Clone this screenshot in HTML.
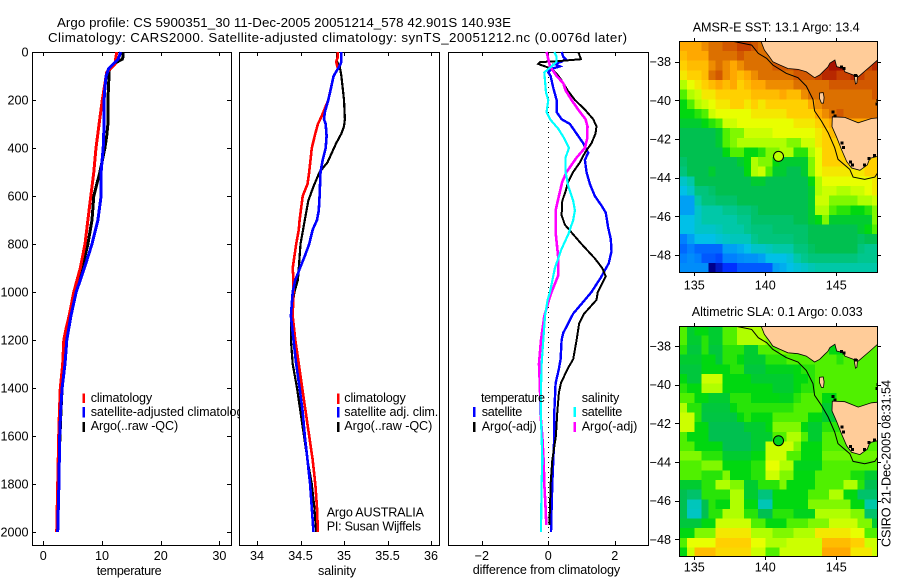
<!DOCTYPE html>
<html>
<head>
<meta charset="utf-8">
<title>Argo profile 5900351_30</title>
<style>
html,body{margin:0;padding:0;background:#fff;}
svg{display:block;}
text{font-family:"Liberation Sans",sans-serif;font-size:12.6px;fill:#000;}
text.title{font-size:13.3px;}
</style>
</head>
<body>
<svg id="chart" xmlns="http://www.w3.org/2000/svg" width="900" height="580" viewBox="0 0 900 580">
  <defs>
    <clipPath id="clip-sst"><rect x="679" y="41" width="199" height="232"/></clipPath>
    <clipPath id="clip-sla"><rect x="679" y="326" width="199" height="230"/></clipPath>
  </defs>
  <rect x="0" y="0" width="900" height="580" fill="#fff"/>
  <text class="title" x="57" y="27" textLength="454" lengthAdjust="spacing">Argo profile: CS 5900351_30 11-Dec-2005 20051214_578 42.901S 140.93E</text>
  <text class="title" x="48" y="42" textLength="579" lengthAdjust="spacing">Climatology: CARS2000. Satellite-adjusted climatology: synTS_20051212.nc (0.0076d later)</text>

  <g id="panel-temp"></g>
  <g id="panel-sal"></g>
  <g id="panel-diff"></g>
  <g id="map-sst"></g>
  <g id="map-sla"></g>

  <text x="692.7" y="31.5" textLength="167" lengthAdjust="spacing">AMSR-E SST: 13.1  Argo: 13.4</text>
  <text x="691.7" y="316" textLength="171" lengthAdjust="spacing">Altimetric SLA: 0.1  Argo: 0.033</text>
  <text transform="translate(890.5,547) rotate(-90)" textLength="167" lengthAdjust="spacing">CSIRO 21-Dec-2005 08:31:54</text>
</svg>
<script>
/* ---------- profile data ---------- */
const depthTicks = [0,200,400,600,800,1000,1200,1400,1600,1800,2000];
const tempTicks = [0,10,20,30];
const salTicks = [34,34.5,35,35.5,36];
const diffTicks = [-2,0,2];

const tempClimDepth = [0,50,85,200,300,400,500,600,800,900,1000,1100,1150,1200,1300,1400,1500,1600,1800,2000];
const tempClim = [12.5,12.2,10.8,10.05,9.5,8.98,8.6,8.1,7.1,6.3,5.2,4.4,3.9,3.5,3.3,2.9,2.75,2.62,2.45,2.28];
const tempArgoDepth = [0,20,30,50,75,100,200,300,350,400,500,600,700,800,900,1000,1100,1200,1300,1400,1500,1600,1800,2000];
const tempArgo = [13.6,13.6,13.45,11.9,11.25,11.2,11.0,11.0,10.8,10.5,9.65,8.6,8.3,7.6,6.6,5.4,4.5,3.9,3.5,3.2,3.0,2.85,2.5,2.35];
const tempSatDepth = [0,30,50,70,100,150,200,300,400,500,600,700,800,900,1000,1100,1200,1300,1400,1500,1600,1800,2000];
const tempSat = [13.2,12.75,11.9,11.1,10.7,10.5,10.35,10.35,10.2,9.85,9.85,9.3,8.3,7,5.6,4.7,4.0,3.7,3.2,2.95,2.8,2.65,2.45];

const salClimDepth = [0,20,40,70,100,200,270,300,340,400,500,550,600,700,740,800,900,950,1000,1100,1200,1300,1400,1500,1600,1700,1800,1900,2000];
const salClim = [34.93,34.93,34.91,34.93,34.88,34.82,34.74,34.70,34.67,34.63,34.6,34.58,34.525,34.49,34.48,34.45,34.41,34.42,34.42,34.41,34.44,34.48,34.52,34.56,34.6,34.64,34.67,34.69,34.7];
const salArgoDepth = [0,40,60,100,200,280,310,340,380,420,460,500,560,620,700,740,800,900,950,1000,1050,1100,1200,1300,1400,1500,1600,1700,1800,1900,2000];
const salArgo = [34.92,34.92,34.95,34.97,35.0,35.01,35.0,34.97,34.91,34.86,34.81,34.72,34.65,34.59,34.55,34.53,34.5,34.48,34.47,34.43,34.41,34.39,34.39,34.41,34.46,34.5,34.54,34.58,34.63,34.66,34.68];
const salSatDepth = [0,40,50,70,100,150,200,250,280,300,350,400,450,500,600,660,700,740,800,850,950,1000,1100,1200,1300,1400,1500,1600,1700,1800,1900,2000];
const salSat = [34.97,34.97,34.96,34.93,34.88,34.85,34.82,34.78,34.77,34.79,34.8,34.79,34.755,34.73,34.72,34.71,34.69,34.64,34.6,34.55,34.44,34.41,34.39,34.42,34.45,34.49,34.525,34.55,34.58,34.61,34.63,34.65];

const diffTempArgoDepth = [0,10,30,38,42,50,60,70,90,120,160,200,240,280,310,340,380,420,460,500,540,580,620,680,720,760,800,860,900,935,970,1000,1033,1090,1130,1200,1280,1320,1380,1420,1500,1600,1700,1800,1900,1970];
const diffTempArgo = [0.9,0.93,0.98,0.3,-0.25,-0.3,-0.1,0.1,0.25,0.41,0.58,0.8,1.1,1.35,1.45,1.42,1.3,1.1,0.95,0.75,0.6,0.52,0.42,0.4,0.5,0.75,1.0,1.4,1.62,1.73,1.6,1.49,1.45,1.08,0.93,0.85,0.75,0.58,0.38,0.32,0.27,0.23,0.12,0.07,0.05,0.03];
const diffTempSatDepth = [0,20,30,40,50,60,70,85,100,150,200,250,280,300,330,380,420,450,500,550,600,640,670,730,780,830,880,940,1000,1033,1090,1130,1170,1200,1280,1320,1380,1500,1600,1700,1800,1900,2000];
const diffTempSat = [0.4,0.45,0.52,0.4,0.2,0.35,0.1,0,0.07,0.15,0.25,0.25,0.4,0.65,0.8,1.05,1.2,1.1,1.15,1.25,1.4,1.6,1.73,1.8,1.88,1.9,1.82,1.58,1.3,1.1,0.75,0.6,0.45,0.4,0.37,0.32,0.22,0.18,0.18,0.15,0.12,0.1,0.08];
const diffSalSatDepth = [0,20,40,60,85,120,170,200,250,280,320,360,400,440,500,560,620,660,700,760,820,900,1000,1033,1100,1200,1300,1400,1500,1600,1700,1800,2000];
const diffSalSat = [0.18,0.25,0.25,0.1,-0.12,-0.1,-0.07,0,-0.05,0.05,0.3,0.48,0.62,0.52,0.52,0.6,0.75,0.8,0.75,0.6,0.4,0.2,0.05,-0.02,-0.1,-0.15,-0.2,-0.22,-0.23,-0.2,-0.18,-0.2,-0.22];
const diffSalArgoDepth = [0,30,60,100,130,160,200,240,280,310,360,400,440,500,540,600,660,750,860,930,1000,1033,1100,1200,1300,1400,1500,1600,1700,1800,1900,1970];
const diffSalArgo = [-0.05,0,0.05,0.25,0.45,0.52,0.7,0.9,1.12,1.18,1.17,1.1,0.85,0.55,0.42,0.32,0.22,0.22,0.3,0.3,0.1,0.02,-0.12,-0.22,-0.28,-0.25,-0.24,-0.18,-0.14,-0.12,-0.08,-0.06];

/* ---------- map data ---------- */
const lonTicks = [135,140,145];
const latTicks = [-38,-40,-42,-44,-46,-48];
const floatLon = 140.93;
const floatLat = -42.9;
const floatSstLevel = 8.2;
const floatSlaLevel = 5.8;

const sstLevels = [
[11,11,11,11.5,12,12,12.5,12.5,13,13,12.5,12,12,12,12,12,12,12,12,12,12,12,12,12,12,12,12,12],
[10.5,11,11,11,12,12,12,12,12.5,12,12,12,12,12,12,12,12,12,12,12,12,12,12,12,12,12,12,12],
[10,10.5,10.5,10.5,11.5,12,11.5,11,11.5,12,12,12,12,12.5,12.5,12.5,13,13,13,13,13.5,14,14,13,13,13,13,13.5],
[9.5,10,10,10.5,12,12.5,11.5,11,10.5,11,11.5,12,12,12,12,12,12.5,12.5,12.5,13,13.5,13.5,13,13,13.5,13,12.5,12.5],
[8,9,9.5,10,10.5,11,10.5,11,10,10.5,11,11,11.5,11.5,11.5,11.5,12,12,12,12,12,12.5,12.5,12.5,12.5,12.5,12.5,12.5],
[7,8,8.5,9.5,9.5,10,10,10,10,10,10.5,10.5,10.5,10.5,11,10.5,10.5,11.5,12,12,12,12,12,12,12,12,12,12.5],
[6,7,8,8.5,9,9.5,9.5,10,10,9.5,10,9.5,10,10,10,10,10,10,11,11.5,12,12,12,12,12,12,12,12],
[6,6,6.5,7,8.5,9,9,9,9,9,9.5,9.5,9.5,9.5,9.5,10,10,10,10,11,11.5,12,12.5,12,12,12,12,12],
[5.5,5.5,5.5,6,6.5,7,8.5,8.5,9,9,9,9,9,9,9,9,9.5,9.5,9.5,10,10.5,11,11,11,11,11,11,11],
[5,5,5,5,5,5.5,7,7.5,7.5,8.5,8.5,8.5,8.5,9,9,9,9,9,9,9.5,10,10.5,10.5,10.5,10.5,10.5,10.5,10.5],
[5,5,5,5,5,5.5,7,7.5,8,8,8,8,8,8,8,7.5,7.5,8.5,8.5,9.5,10,10,10,10,10,10,10,10],
[5,5,5,5,5,5,6,7,7,6,6,6.5,7.5,7.5,8,8,6.5,6.5,8,9,10,10,10,10.5,10.5,10.5,10.5,10.5],
[4.7,5,5,5,5,5,5,5,5.5,6,8,7.5,7.5,6,5.5,5.5,5.5,5.5,7.5,9,10,10,10,10,10,10,10,10],
[4.5,5,5,5,5.5,5,5,5,5,6,8,8.5,7,5.5,5.5,5,5,5.5,7.5,9,9.5,9.5,9.5,9.5,9.5,9.5,10,10],
[3.5,4,5,5,5,5,5,5,5,5,5.5,5.5,5,5,5,5,5,5,6,8,9,9,9,9,9,9,9,9.5],
[3,3.5,4.5,4.5,4.7,5,5,5,5,5,5,5,5,5,5,5,5,5,5.5,8,8.5,8.5,8,8,8.5,8.5,9,9.5],
[2.5,2.5,4,4.5,4.5,4.7,4.7,4.7,5,5,5,5,5,5,5,5,5,5,5.5,8.5,8.5,7.5,7.5,7.5,7.5,8,8,8.5],
[2.5,2.5,3.5,4,4,4,4.3,4.3,4.5,4.5,4.7,5,5,5,5,5,5,5,5.5,8,8,7,6.5,6.5,6,6,6.5,7.5],
[3,3,3.5,4,4,4,4,4,4.3,4.3,4.7,4.7,4.7,4.7,4.7,4.7,5,5,5.5,6,7.5,5.5,5.5,5.5,5.5,5.5,5.5,7.5],
[3,3,3.5,3.5,3.5,3.7,4,4,4,4.3,4.5,4.5,4.5,4.7,4.7,4.7,4.7,4.7,5,5,5,5,5,5,5,5.5,6,7],
[2,2.5,3,3,3,3.3,3.5,3.7,3.7,3.7,4.3,4.5,4.5,4.5,4.5,4.5,4.7,4.7,5,5,5,5,5,5,5,4.8,5,5],
[1.7,2,1.7,1.7,1.7,1.7,2.5,2.5,2.7,3,3.5,3.5,3.7,4,4,4,4.5,4.5,4.8,5,5,5,5,5,5,4.5,4.3,4.3],
[2,2.2,2,1.5,1.5,1.3,2,2,2.2,2.3,2.3,2.5,3,3,3,3.3,4,4.3,4.5,4.5,4.5,4.5,4.5,4.5,4.5,4.3,4.3,4.3],
[2.2,2.2,2.2,2.2,0,0.5,1,1,1.5,1.5,1.5,1.5,1.5,2.5,2.7,3,3.3,3.5,3.8,4,4,4,4,4,4,4,4,4]
];

const slaLevels = [
[7,5.5,6,6,5.5,5.5,7,7,8,8,8,8,8,8,8,8,8,8,8,8,8,8,8,8,8,8,8,8],
[7,5.5,5.5,6.5,5.5,5.5,7,7,8,8,8,8,7.5,7.5,7.5,7,7,7,7,7,7,7,7,7,7,7,7,7],
[6.5,5.3,5.3,6.5,5.3,5.3,6.5,6.5,6.5,5.5,5.5,7,7,7,7.5,7.5,7,7,7,7,7,6,6,7,7,7,7,7],
[5.5,5.5,5.5,6,6,5.3,6.5,6.5,6,5.5,5.5,5.5,6.5,6.5,6.5,7,7,7,7,7,7,7,6.5,7,7,7,7,7],
[5.3,5.3,5.3,6,6,6,6,6.5,6.5,5.3,5.3,5.3,5.8,5.8,5.8,5.8,6,6.5,6.5,7,7,7,7,7,7,7,7,7],
[6,5.3,5.3,8.5,8.5,8.5,6,6,6,6,5.5,5.5,5.5,5.5,5.5,5.5,6,6,6.5,7,7,7,7,7,7,7,7,7],
[6.5,6,6,8,8,8,6,6,6,6,6,6,6,5.5,5.5,5.5,6,6.5,6.5,7,7,7,7,7,7,7,7,7],
[7,7,6,6,5.5,5.5,5.5,6.5,6.5,6.5,6,6,6,6,5.8,5.8,6.5,7,7,7,6,6,7,7,7,7,7,7],
[8,6.5,6.5,5.3,5.3,5.3,5.3,6,6.5,6.5,6.5,6.5,6.5,6.5,6.5,6.5,7,7,7,7,5.5,5.5,7,7,7,7,7,7],
[8.5,8.5,6.5,5.2,5.2,5.2,5.2,5.2,6,6.5,6,6,6,7,7,7,7,7,6,6,5.5,5.5,5.5,7,7,7,7,7],
[8.5,8.5,6,6,5,5,5,5,5,5.5,5.5,5.5,6,7.5,7.5,7.5,7.5,6,5.5,5.5,6.5,6.5,6.5,7,7,7,7,7],
[7,6,6,6,5,5,5,5,5,5,5.5,5.5,5.5,7,7,8,8,7,5.5,5.5,7,7,7,7,7,7,7,7],
[7,7,6,6,6,6,5,5,5,5,5.5,5.5,8.5,8.5,8.5,8.5,7.5,6,6,6,7,7,7,7,7,7,7,7],
[7.5,7.5,7.5,6.5,6.5,6.5,5.5,5.5,5.5,5.5,6,6,8.5,8.5,8.5,7,7,6,6,6,7.3,7.3,7.3,7.3,7.3,7.3,7.3,7.3],
[7,7,7,7.5,7.5,7.5,6,6,6,6,6.5,6.5,9,9,8,8,5.8,5.8,5.8,5.8,7,7,7,7,7,7,7,7],
[7,7,7,6.5,6.5,6.5,7.5,6,6,6,6.5,6.5,8.5,8.5,7.5,7.5,6,6,6,7,7,7,7,7,6.3,6.3,5.5,5.5],
[5.5,5.5,5.5,6.5,6.5,8,8,7.5,7.5,5.5,5.5,6.5,6.5,6.5,7.5,6,6,6,6,7,7,7,7,8,8,6.5,5,5],
[5,4.7,4.7,6.5,6.5,6.5,6.5,8,8,5.5,5.5,4.5,4.5,6,6,6,6,6,7,7,7,8,8,6,6,4.7,4.7,4.7],
[5,3.7,3.7,5,6.5,6,6,8,8,6,6,3.8,3.8,6,6,6,6,6,7.5,7.5,7.5,7.5,7.5,7.5,6,6,4,4],
[5,3.6,3.6,5,6.5,6.5,8,8,8,6.5,6.5,5,5,6.5,6.5,6.5,5.8,5.8,5.8,8,8,8,8,8,7.5,7.5,4.7,4.7],
[5.3,5.3,5.3,6,6,8.5,8.5,8.5,8.5,8.5,7,7,6,6,6,7,7,7,7.5,7.5,7.5,8.5,8.5,8.5,8.5,7.5,7.5,5.5],
[6,6,7.5,7.5,7.5,9.5,9.5,9.5,9.5,9.5,8,8,8,7.5,7.5,7.5,8,8,8,9.5,9.5,9.5,9.5,9.5,9,9,7,7],
[7,9,9,9,9,10,10,10,10,10,9,9,8,8,8,8.5,8.5,8.5,8.5,8.5,10.5,10.5,10.5,10.5,10,10,8.5,8.5],
[6,8.5,10.5,10.5,10.5,9.8,9.8,9.8,9.8,9.8,8.5,8.5,7,7,8.5,8.5,8.5,8.5,8.5,8.5,11,11,11,11,9.5,9.5,9.5,8.5]
];

/* coastline geography, lon / lat */
const mainlandLon = [139.70,139.94,140.29,140.53,141.03,141.59,142.30,142.89,143.47,143.83,144.18,144.40,144.55,144.90,145.03,145.50,145.60,146.20,146.55,147.37,148,148,139.70];
const mainlandLat = [-36.95,-37.40,-37.74,-38.00,-38.17,-38.35,-38.40,-38.52,-38.83,-38.69,-38.43,-38.28,-38.08,-37.91,-38.26,-38.34,-38.52,-38.69,-38.78,-38.26,-37.85,-36.95,-36.95];
const tasmaniaLon = [144.72,145.6,146.54,147.48,148,148,147.36,147.18,146.66,146.08,145.73,145.38,145.03,144.70,144.72];
const tasmaniaLat = [-40.85,-40.88,-41.16,-40.94,-40.90,-42.88,-43.0,-43.34,-43.62,-43.5,-43.17,-42.57,-41.91,-41.36,-40.85];
const kingIslandLon = [143.82,144.08,144.14,144.1,143.95,143.82,143.82];
const kingIslandLat = [-39.62,-39.6,-39.85,-40.14,-40.14,-39.9,-39.62];
const promontoryLon = [146.25,146.5,146.45,146.35,146.25];
const promontoryLat = [-38.7,-38.7,-39.1,-39.15,-38.7];
const shelfLon = [137.75,139.04,139.51,140.1,140.53,141.47,142.3,142.89,143.36,143.47,143.95,144.42,144.89,145.12,145.95,146.18,147.0,147.71,148];
const shelfLat = [-36.95,-37.14,-37.57,-37.83,-38.17,-38.6,-38.83,-39.26,-39.95,-40.55,-41.07,-41.67,-42.45,-43.05,-43.57,-43.97,-44.09,-43.97,-43.66];
const coastSpeckLon = [145.35,145.55,146.35,144.75,144.9,145.4,145.5,146.0,146.15,147.0,147.3,147.7,147.85,147.95];
const coastSpeckLat = [-38.28,-38.35,-38.72,-40.6,-40.8,-42.2,-42.45,-43.2,-43.35,-43.35,-43.0,-42.85,-40.2,-40.0];

/* ---------- axis functions ---------- */
const depthY = d => 52 + 0.24 * d;
const tempX = v => 43.3 + 5.87 * v;
const salX = v => 257 + 87 * (v - 34);
const diffX = v => 548.3 + 33.25 * v;
const lonX = v => 694.3 + 14.2 * (v - 135);
const sstLatY = v => 61.7 + 19.33 * (-38 - v);
const slaLatY = v => 346 + 19.33 * (-38 - v);

const colorStops = ["#00008c","#0030ff","#0080ff","#00c0e8","#00c8a8","#00c050","#00d810","#50f000","#b0ff00","#e8ff00","#ffd000","#ffa800","#dc7000","#c84000","#a81000"];
function hexRgb(h){return [parseInt(h.slice(1,3),16),parseInt(h.slice(3,5),16),parseInt(h.slice(5,7),16)];}
function levelColor(v){
  const i = Math.max(0,Math.min(colorStops.length-2,Math.floor(v)));
  const f = Math.max(0,Math.min(1,v-i));
  const a = hexRgb(colorStops[i]), b = hexRgb(colorStops[i+1]);
  return "rgb("+a.map((c,k)=>Math.round(c+(b[k]-c)*f)).join(",")+")";
}
const minusLabel = t => String(t).replace("-","\u2212");

const NS = "http://www.w3.org/2000/svg";
function mk(parent,tag,attrs,txt){
  const e = document.createElementNS(NS,tag);
  for(const k in attrs) e.setAttribute(k,attrs[k]);
  if(txt!==undefined) e.textContent = txt;
  parent.appendChild(e);
  return e;
}
function linePath(xs,ys,xf,yf){
  return xs.map((v,i)=>xf(v).toFixed(1)+","+yf(ys[i]).toFixed(1)).join(" ");
}

/* ---------- profile panels ---------- */
function frame(g,x,y,w,h,name){
  const el = mk(g,"rect",{x:x+0.5,y:y+0.5,width:w,height:h,fill:"none",stroke:"#000","stroke-width":1,"shape-rendering":"crispEdges"});
  
  
}
function xAxis(g,ticks,xf,top,bottom){
  ticks.forEach(t=>{
    const x = Math.round(xf(t))+0.5;
    const t1 = mk(g,"line",{x1:x,x2:x,y1:bottom,y2:bottom-4,stroke:"#000","shape-rendering":"crispEdges"});
    
    
    const t2 = mk(g,"line",{x1:x,x2:x,y1:top,y2:top+4,stroke:"#000","shape-rendering":"crispEdges"});
    
    
    const lb = mk(g,"text",{x:xf(t),y:560,"text-anchor":"middle"},minusLabel(t));
    
    
  });
}
function profile(g,vals,depths,xf,color,width,name){
  const el = mk(g,"polyline",{points:linePath(vals,depths,xf,depthY),fill:"none",stroke:color,"stroke-width":width,"shape-rendering":"crispEdges"});
  
  
}
function legend(g,swX,txX,y0,y1,base,color,label,len,name){
  const sw = mk(g,"rect",{x:swX,y:y0,width:2.4,height:y1-y0,fill:color,"shape-rendering":"crispEdges"});
  
  
  const tx = mk(g,"text",{x:txX,y:base,textLength:len,lengthAdjust:"spacing"},label);
  
  
}
function axisTitle(g,x,y,len,label,name){
  const tx = mk(g,"text",{x:x,y:y,textLength:len,lengthAdjust:"spacing"},label);
  
  
}

/* temperature */
const gT = document.getElementById("panel-temp");
frame(gT,32,52,199,493,"temperature-plot-frame");
xAxis(gT,tempTicks,tempX,52,545);
depthTicks.forEach(d=>{
  const y = Math.round(depthY(d))+0.5;
  const a = mk(gT,"line",{x1:32,x2:36,y1:y,y2:y,stroke:"#000","shape-rendering":"crispEdges"});
  
  
  const b = mk(gT,"line",{x1:227,x2:231,y1:y,y2:y,stroke:"#000","shape-rendering":"crispEdges"});
  
  
  const lb = mk(gT,"text",{x:28.5,y:depthY(d)+4.5,"text-anchor":"end"},String(d));
  
  
});
profile(gT,tempArgo,tempArgoDepth,tempX,"#000",3,"temperature-argo-line");
profile(gT,tempClim,tempClimDepth,tempX,"#f00",3,"temperature-climatology-line");
profile(gT,tempSat,tempSatDepth,tempX,"#00f",3,"temperature-satellite-line");
axisTitle(gT,96.7,575,65,"temperature","x-axis-title-temperature");
legend(gT,82.5,90.7,393.5,403,402,"#f00","climatology",61.5,"legend-climatology");
legend(gT,82.5,90.7,407,417.5,416,"#00f","satellite-adjusted climatology",159,"legend-satellite-adjusted");
legend(gT,82.5,90.7,422,432,430,"#000","Argo(..raw -QC)",87.5,"legend-argo");

/* salinity */
const gS = document.getElementById("panel-sal");
const bgS = mk(gS,"rect",{x:240,y:52,width:199,height:493,fill:"#fff"});


frame(gS,239,52,200,493,"salinity-plot-frame");
xAxis(gS,salTicks,salX,52,545);
profile(gS,salArgo,salArgoDepth,salX,"#000",2.2,"salinity-argo-line");
profile(gS,salClim,salClimDepth,salX,"#f00",2.6,"salinity-climatology-line");
profile(gS,salSat,salSatDepth,salX,"#00f",2.6,"salinity-satellite-line");
axisTitle(gS,318,575,38,"salinity","x-axis-title-salinity");
legend(gS,337,344.3,393.5,404,402,"#f00","climatology",61.5,"salinity-legend-climatology");
legend(gS,337,344.3,407,417.5,416,"#00f","satellite adj. clim.",94,"salinity-legend-satellite");
legend(gS,337,344.3,422,432,430,"#000","Argo(..raw -QC)",88,"salinity-legend-argo");
axisTitle(gS,326.7,516.7,97.3,"Argo AUSTRALIA","float-owner-label");
axisTitle(gS,326.7,530.7,94.3,"PI: Susan Wijffels","principal-investigator-label");

/* difference */
const gD = document.getElementById("panel-diff");
const bgD = mk(gD,"rect",{x:449,y:52,width:199,height:493,fill:"#fff"});


frame(gD,448,52,200,493,"difference-plot-frame");
xAxis(gD,diffTicks,diffX,52,545);
const zeroLine = mk(gD,"line",{x1:548.5,x2:548.5,y1:52,y2:545,stroke:"#000","stroke-dasharray":"1 4","shape-rendering":"crispEdges"});


profile(gD,diffTempSat,diffTempSatDepth,diffX,"#00f",2.4,"difference-temperature-satellite-line");
profile(gD,diffTempArgo,diffTempArgoDepth,diffX,"#000",2,"difference-temperature-argo-line");
profile(gD,diffSalArgo,diffSalArgoDepth,diffX,"#f0f",2.6,"difference-salinity-argo-line");
profile(gD,diffSalSat,diffSalSatDepth,diffX,"#0ff",2.2,"difference-salinity-satellite-line");
axisTitle(gD,472.7,574,147.5,"difference from climatology","x-axis-title-difference");
axisTitle(gD,481,402,64,"temperature","legend-temperature-heading");
axisTitle(gD,581.7,402,37.6,"salinity","legend-salinity-heading");
legend(gD,473,481.7,407,417,416,"#00f","satellite",40.6,"difference-legend-temperature-satellite");
legend(gD,473,481.7,422,432,430.5,"#000","Argo(-adj)",55,"difference-legend-temperature-argo");
legend(gD,573.5,581.7,407,417,416,"#0ff","satellite",40.6,"difference-legend-salinity-satellite");
legend(gD,573.5,581.7,422,432,430.5,"#f0f","Argo(-adj)",55.6,"difference-legend-salinity-argo");

/* ---------- maps ---------- */
function drawMap(g,levels,latY,clipId,top,bottom,labelBase,floatLevel,prefix){
  const clip = mk(g,"g",{"clip-path":"url(#"+clipId+")"});
  
  
  const latStep = 0.4988, lonStep = 0.5;
  levels.forEach((row,r)=>{
    row.forEach((v,c)=>{
      const x0 = lonX(134+c*lonStep), x1 = lonX(134+(c+1)*lonStep);
      const y0 = latY(-36.95-r*latStep), y1 = latY(-36.95-(r+1)*latStep);
      const cell = mk(clip,"rect",{x:x0.toFixed(1),y:y0.toFixed(1),width:(x1-x0+0.6).toFixed(1),height:(y1-y0+0.6).toFixed(1),fill:levelColor(v),"shape-rendering":"crispEdges"});
      
      
    });
  });
  const land1 = mk(clip,"polygon",{points:linePath(mainlandLon,mainlandLat,lonX,latY),fill:"#ffcc99",stroke:"#000","stroke-width":0.8});
  
  
  const land2 = mk(clip,"polygon",{points:linePath(tasmaniaLon,tasmaniaLat,lonX,latY),fill:"#ffcc99",stroke:"#000","stroke-width":0.8});
  
  
  const land3 = mk(clip,"polygon",{points:linePath(kingIslandLon,kingIslandLat,lonX,latY),fill:"#ffcc99",stroke:"#000","stroke-width":0.8});
  
  
  const land4 = mk(clip,"polygon",{points:linePath(promontoryLon,promontoryLat,lonX,latY),fill:"#ffcc99",stroke:"#000","stroke-width":0.8});
  
  
  coastSpeckLon.forEach((lon,i)=>{
    const sp = mk(clip,"rect",{x:(lonX(lon)-1.5).toFixed(1),y:(latY(coastSpeckLat[i])-1.5).toFixed(1),width:3,height:3,fill:"#000","shape-rendering":"crispEdges"});
    
    
  });
  const shelf = mk(clip,"polyline",{points:linePath(shelfLon,shelfLat,lonX,latY),fill:"none",stroke:"#000","stroke-width":1});
  
  
  const dot = mk(g,"circle",{cx:lonX(floatLon),cy:latY(floatLat),r:5,fill:levelColor(floatLevel),stroke:"#000","stroke-width":1});
  
  
  frame(g,679,top,198,bottom-top,prefix+'-map-frame');
  lonTicks.forEach(t=>{
    const x = Math.round(lonX(t))+0.5;
    const a = mk(g,"line",{x1:x,x2:x,y1:top-3,y2:top,stroke:"#000","shape-rendering":"crispEdges"});
    
    
    const b = mk(g,"line",{x1:x,x2:x,y1:bottom+1,y2:bottom+4,stroke:"#000","shape-rendering":"crispEdges"});
    
    
    const lb = mk(g,"text",{x:lonX(t),y:labelBase,"text-anchor":"middle"},String(t));
    
    
  });
  latTicks.forEach(t=>{
    const y = Math.round(latY(t))+0.5;
    const a = mk(g,"line",{x1:675,x2:679,y1:y,y2:y,stroke:"#000","shape-rendering":"crispEdges"});
    
    
    const b = mk(g,"line",{x1:878,x2:881,y1:y,y2:y,stroke:"#000","shape-rendering":"crispEdges"});
    
    
    const lb = mk(g,"text",{x:671,y:latY(t)+4.5,"text-anchor":"end"},minusLabel(t));
    
    
  });
}
drawMap(document.getElementById("map-sst"),sstLevels,sstLatY,"clip-sst",41,272,289.5,floatSstLevel,"sst");
drawMap(document.getElementById("map-sla"),slaLevels,slaLatY,"clip-sla",326,556,571.5,floatSlaLevel,"sla");
</script>
</body>
</html>
